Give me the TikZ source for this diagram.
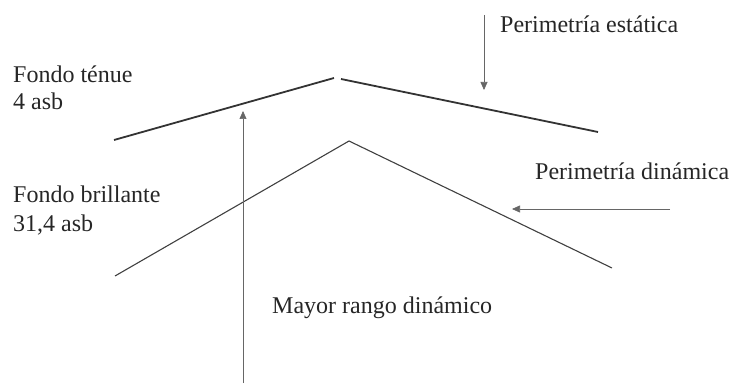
\documentclass[tikz,border=0pt]{standalone}
\usepackage{fontspec}
\setmainfont{Liberation Serif}
\usetikzlibrary{arrows.meta}
\begin{document}
\begin{tikzpicture}[x=1pt,y=1pt,
  lbl/.style={anchor=base west,inner sep=0pt,font=\fontsize{24}{29}\selectfont,text=black!85},
  thick curve/.style={line width=1.8pt,black!80},
  thin curve/.style={line width=1.1pt,black!75},
  pointer/.style={line width=0.6pt,black!60,-{Triangle[length=8pt,width=7pt]}}]
\useasboundingbox (0,0) rectangle (730,383);
% top (static) curve
\coordinate (tl) at (114,243);
\coordinate (tm1) at (334,305);
\coordinate (tm2) at (341,304);
\coordinate (tr) at (598,251);
\draw[thick curve] (tl) -- (tm1);
\draw[thick curve] (tm2) -- (tr);
% bottom (dynamic) curve
\coordinate (bl) at (115,107);
\coordinate (bm) at (349,242);
\coordinate (br) at (612,115);
\draw[thin curve] (bl) -- (bm) -- (br);
% labels
\node[lbl] (ft) at (13,300) {Fondo ténue};
\node[lbl] (fta) at (13,273) {4 asb};
\node[lbl] (fb) at (13,180) {Fondo brillante};
\node[lbl] (fba) at (13,151) {31,4 asb};
\node[lbl] (pe) at (500,350) {Perimetría estática};
\node[lbl] (pd) at (535,203) {Perimetría dinámica};
\node[lbl] (mr) at (272,70) {Mayor rango dinámico};
% arrows
\coordinate (a1s) at (243,0);
\coordinate (a1e) at (243,272);
\draw[pointer] (a1s) -- (a1e);
\coordinate (a2s) at (484,368);
\coordinate (a2e) at (484,293);
\draw[pointer] (a2s) -- (a2e);
\coordinate (a3s) at (670,174);
\coordinate (a3e) at (512,174);
\draw[pointer] (a3s) -- (a3e);
\end{tikzpicture}
\end{document}
